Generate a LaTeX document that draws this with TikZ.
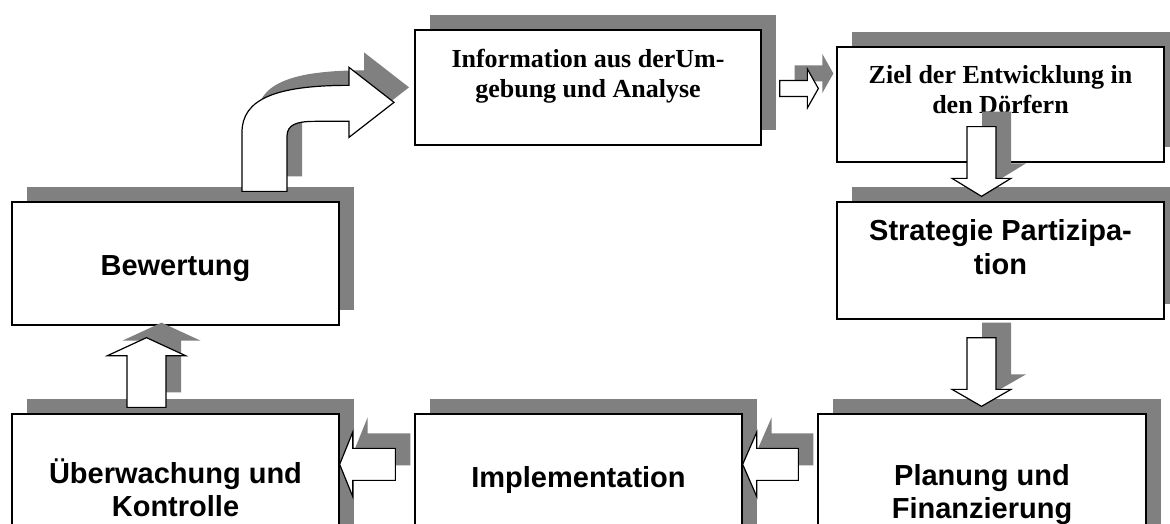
\documentclass[tikz,border=0pt]{standalone}
\usepackage{fontspec}
\setmainfont{Liberation Serif}
\newfontfamily\arialfont{Liberation Sans}
\usetikzlibrary{calc}
\definecolor{shadowgray}{HTML}{808080}

% straight block arrow: tail, tip, half body width, half head width, head length
\newcommand\blockarrow[5]{%
  \coordinate (#2-h) at ($(#2)!#5!(#1)$);
  \draw[blockarrow] ($(#1)!#3!90:(#2)$) -- ($(#2-h)!#3!90:(#2)$)
    -- ($(#2-h)!#4!90:(#2)$) -- (#2) -- ($(#2-h)!#4!-90:(#2)$)
    -- ($(#2-h)!#3!-90:(#2)$) -- ($(#1)!#3!-90:(#2)$) -- cycle;%
}

\tikzset{
  shadowed/.style={preaction={fill=shadowgray,
      transform canvas={xshift=15pt,yshift=15pt}}},
  box/.style={draw, line width=1.3pt, fill=white, shadowed, inner sep=0pt,
      rectangle},
  blockarrow/.style={draw, line width=1.2pt, fill=white, line join=miter,
      shadowed},
  % multi-line labels: the base anchor sits on the last line
  sanslabel/.style={font=\arialfont\bfseries\fontsize{29}{33.4}\selectfont,
      align=center, anchor=base, inner sep=0pt},
  seriflabel/.style={font=\bfseries\fontsize{26}{30}\selectfont,
      align=center, anchor=base, inner sep=0pt}
}

\begin{document}
\begin{tikzpicture}[x=1pt,y=-1pt]
\useasboundingbox (0,0) rectangle (1170,524);
\fill[white] (0,0) rectangle (1170,524);
\clip (0,0) rectangle (1170,524);

% process boxes
\node[box, minimum width=327pt, minimum height=123pt] (bew)   at (175.5,263.5) {};
\node[box, minimum width=327pt, minimum height=150pt] (ueb)   at (175.5,489) {};
\node[box, minimum width=327pt, minimum height=150pt] (impl)  at (578.5,489) {};
\node[box, minimum width=328pt, minimum height=150pt] (plan)  at (982,489) {};
\node[box, minimum width=327pt, minimum height=117pt] (strat) at (1000.5,260.5) {};
\node[box, minimum width=327pt, minimum height=115pt] (ziel)  at (1000.5,104.5) {};
\node[box, minimum width=346pt, minimum height=115pt] (info)  at (588,87.5) {};

% box texts
\node[seriflabel] (infotxt)  at (588,97.3)     {Information aus derUm-\\gebung und Analyse};
\node[seriflabel] (zieltxt)  at (1000.5,113.3) {Ziel der Entwicklung in\\den Dörfern};
\node[sanslabel]  (strattxt) at (1000.5,274.1) {Strategie Partizipa-\\tion};
\node[sanslabel]  (bewtxt)   at (175.5,275)    {Bewertung};
\node[sanslabel]  (uebtxt)   at (175.5,516.7)  {Überwachung und\\Kontrolle};
\node[sanslabel]  (impltxt)  at (578.5,487)    {Implementation};
\node[sanslabel]  (plantxt)  at (982,518.4)    {Planung und\\Finanzierung};

% arrow end points
\coordinate (r-tail)  at ($(info.east)+(18,1)$);
\coordinate (r-tip)   at ($(ziel.west)+(-18,-16)$);
\coordinate (d1-tail) at ($(ziel.south)+(-19,-36)$);
\coordinate (d1-tip)  at ($(strat.north)+(-19,-5)$);
\coordinate (d2-tail) at ($(strat.south)+(-19,18)$);
\coordinate (d2-tip)  at ($(plan.north)+(-0.5,-7)$);
\coordinate (l2-tail) at ($(plan.north west)+(-19,51)$);
\coordinate (l2-tip)  at ($(impl.north east)+(0,51)$);
\coordinate (l1-tail) at ($(impl.north west)+(-19,51)$);
\coordinate (l1-tip)  at ($(ueb.north east)+(0,51)$);
\coordinate (u-tail)  at ($(ueb.north)+(-29,-6)$);
\coordinate (u-tip)   at ($(bew.south)+(-29,12)$);
\coordinate (c-tail)  at ($(bew.north)+(89,-10)$);

% block arrows
\blockarrow{r-tail}{r-tip}{8pt}{19.5pt}{11pt}
\blockarrow{d1-tail}{d1-tip}{14.5pt}{29.5pt}{18pt}
\blockarrow{d2-tail}{d2-tip}{14.5pt}{29.5pt}{17pt}
\blockarrow{l2-tail}{l2-tip}{16pt}{32pt}{14pt}
\blockarrow{l1-tail}{l1-tip}{16pt}{32pt}{13pt}
\blockarrow{u-tail}{u-tip}{19.5pt}{39pt}{18pt}

% bent arrow from Bewertung up and over to the information box
\begin{scope}[shift={(c-tail)}]
\draw[blockarrow] (-22.5,0) -- (-22.5,-59)
  .. controls (-22.5,-92) and (10.5,-106) .. (84.5,-106)
  -- (84.5,-124) -- (129.5,-89) -- (84.5,-54) -- (84.5,-70) -- (50.5,-70)
  .. controls (32.5,-70) and (22.5,-67) .. (22.5,-55) -- (22.5,0) -- cycle;
\end{scope}
\end{tikzpicture}
\end{document}
